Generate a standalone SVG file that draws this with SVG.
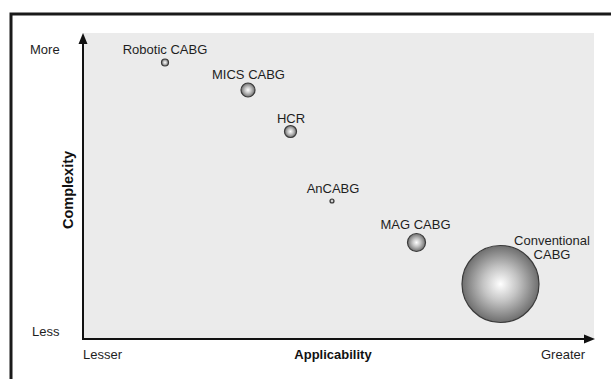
<svg xmlns="http://www.w3.org/2000/svg" width="611" height="379" viewBox="0 0 611 379">
  <style>
    .lbl { font-family: "Liberation Sans", Arial, sans-serif; font-size: 13px; fill: #1e1e1e; }
    .axt { font-family: "Liberation Sans", Arial, sans-serif; font-size: 13px; font-weight: bold; fill: #111; }
    .axis { stroke: #111; stroke-width: 2; fill: none; }
    .bub { fill: url(#sphere); stroke: #3a3a3a; stroke-width: 1.2; }
  </style>
  <defs>
    <radialGradient id="sphere" cx="0.5" cy="0.5" r="0.5">
      <stop offset="0" stop-color="#ffffff"/>
      <stop offset="0.45" stop-color="#c4c4c4"/>
      <stop offset="1" stop-color="#6e6e6e"/>
    </radialGradient>
  </defs>

  <!-- page background and frame -->
  <rect x="0" y="0" width="611" height="379" fill="#ffffff"/>
  <path d="M11 379 V14 H611" fill="none" stroke="#1a1a1a" stroke-width="3"/>

  <!-- plot area -->
  <rect x="83" y="33" width="511" height="306" fill="#ebebeb"/>

  <!-- axes -->
  <g id="axes">
    <line class="axis" x1="83" y1="339" x2="83" y2="42"/>
    <polygon points="78.5,44 83,33 87.5,44" fill="#111"/>
    <line class="axis" x1="82" y1="339" x2="586" y2="339"/>
    <polygon points="584,334.5 595,339 584,343.5" fill="#111"/>
  </g>

  <!-- axis labels -->
  <text class="lbl" x="30" y="54">More</text>
  <text class="lbl" x="32" y="336">Less</text>
  <text class="lbl" x="83" y="359">Lesser</text>
  <text class="lbl" x="541" y="359">Greater</text>
  <text class="axt" x="333" y="359" text-anchor="middle">Applicability</text>
  <text class="axt" transform="translate(73 190) rotate(-90)" text-anchor="middle" style="font-size:14.5px">Complexity</text>

  <!-- procedures -->
  <g id="robotic-cabg">
    <text class="lbl" x="165" y="54" text-anchor="middle">Robotic CABG</text>
    <circle class="bub" cx="165" cy="62.5" r="3.5"/>
  </g>
  <g id="mics-cabg">
    <text class="lbl" x="248.5" y="79" text-anchor="middle">MICS CABG</text>
    <circle class="bub" cx="248" cy="90" r="7"/>
  </g>
  <g id="hcr">
    <text class="lbl" x="291" y="123" text-anchor="middle">HCR</text>
    <circle class="bub" cx="290.5" cy="131.5" r="6"/>
  </g>
  <g id="ancabg">
    <text class="lbl" x="333" y="193" text-anchor="middle">AnCABG</text>
    <circle class="bub" cx="332" cy="201" r="2"/>
  </g>
  <g id="mag-cabg">
    <text class="lbl" x="415.5" y="229" text-anchor="middle">MAG CABG</text>
    <circle class="bub" cx="416.5" cy="242.5" r="9"/>
  </g>
  <g id="conventional-cabg">
    <text class="lbl" x="552" y="245" text-anchor="middle">Conventional</text>
    <text class="lbl" x="552" y="259" text-anchor="middle">CABG</text>
    <circle class="bub" cx="500.5" cy="284" r="38.5"/>
  </g>
</svg>
